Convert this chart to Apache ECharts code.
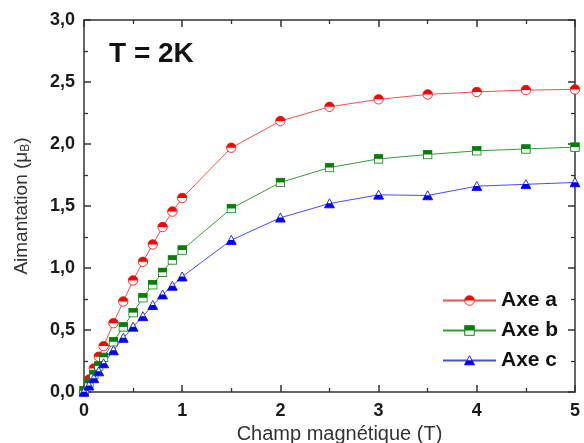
<!DOCTYPE html>
<html>
<head>
<meta charset="utf-8">
<script src="https://cdn.jsdelivr.net/npm/echarts@6/dist/echarts.min.js"></script>
<style>
html,body{margin:0;padding:0;background:#fff;}
#chart{width:584px;height:443px;}
</style>
</head>
<body>
<div id="chart"></div>
<script>
// Data
var fieldT = [0, 0.05, 0.1, 0.15, 0.2, 0.3, 0.4, 0.5, 0.6, 0.7, 0.8, 0.9, 1.0, 1.5, 2, 2.5, 3, 3.5, 4, 4.5, 5];
var axeA = [0, 0.10, 0.19, 0.285, 0.37, 0.555, 0.73, 0.90, 1.05, 1.19, 1.33, 1.455, 1.565, 1.97, 2.185, 2.30, 2.36, 2.40, 2.42, 2.435, 2.44];
var axeB = [0.01, 0.07, 0.14, 0.21, 0.28, 0.405, 0.525, 0.64, 0.76, 0.865, 0.965, 1.065, 1.145, 1.48, 1.69, 1.81, 1.88, 1.915, 1.945, 1.96, 1.975];
var axeC = [0, 0.05, 0.11, 0.165, 0.23, 0.335, 0.435, 0.525, 0.61, 0.70, 0.785, 0.855, 0.93, 1.225, 1.405, 1.52, 1.59, 1.585, 1.66, 1.675, 1.69];
var seriesNames = ['Axe a', 'Axe b', 'Axe c'];
var xTickLabels = ['0', '1', '2', '3', '4', '5'];
var yTickLabels = ['0,0', '0,5', '1,0', '1,5', '2,0', '2,5', '3,0'];

function svgSym(svg) {
  return 'image://data:image/svg+xml;charset=utf-8,' + encodeURIComponent(svg);
}
var NS = 'xmlns="http://www.w3.org/2000/svg"';
var symCircle = svgSym('<svg ' + NS + ' width="20" height="20" viewBox="0 0 20 20">' +
  '<circle cx="10" cy="10" r="8.6" fill="#fff" stroke="#ff0000" stroke-width="1.5"/>' +
  '<path d="M1.4,10 A8.6,8.6 0 0 1 18.6,10 Z" fill="#ff0000"/></svg>');
var symSquare = svgSym('<svg ' + NS + ' width="20" height="20" viewBox="0 0 20 20">' +
  '<rect x="1.5" y="1.5" width="17" height="17" fill="#fff" stroke="#008000" stroke-width="1.7"/>' +
  '<rect x="1.5" y="1.5" width="17" height="8.5" fill="#008000"/></svg>');
var symTri = svgSym('<svg ' + NS + ' width="20" height="20" viewBox="0 0 20 20">' +
  '<polygon points="10,1.5 19,17.8 1,17.8" fill="#fff" stroke="#0000ff" stroke-width="1.5" stroke-linejoin="miter"/>' +
  '<polygon points="5.5,9.65 14.5,9.65 19,17.8 1,17.8" fill="#0000ff"/></svg>');

var chart = echarts.init(document.getElementById('chart'), null, {renderer: 'canvas'});

function pairs(vals) {
  return fieldT.map(function (x, i) { return [x, vals[i]]; });
}

var FONT = 'Liberation Sans, Arial, sans-serif';
var axisLineStyle = {color: '#333', width: 1.5};
var labelFont = {fontFamily: FONT, fontWeight: 'bold', fontSize: 18, color: '#1a1a1a'};
var tickCfg = {show: true, inside: true, length: 7, lineStyle: axisLineStyle};
var minorCfg = {show: true, splitNumber: 2, length: 4, lineStyle: {color: '#333', width: 1.3}};

var option = {
  animation: false,
  backgroundColor: '#fff',
  title: {
    text: 'T = 2K',
    left: 104, top: 35,
    textStyle: {fontFamily: FONT, fontWeight: 'bold', fontSize: 28, color: '#111'}
  },
  legend: {
    orient: 'vertical',
    left: 437, top: 285,
    itemWidth: 53, itemHeight: 14, itemGap: 9,
    data: seriesNames,
    textStyle: {fontFamily: FONT, fontWeight: 'bold', fontSize: 21, color: '#111'}
  },
  grid: {left: 84, top: 20, right: 9, bottom: 51, containLabel: false, outerBoundsMode: 'none'},
  xAxis: [{
    type: 'value', min: 0, max: 5, interval: 1,
    name: 'Champ magnétique (T)', nameLocation: 'middle', nameGap: 32,
    nameTextStyle: {fontFamily: FONT, fontSize: 20, color: '#333', padding: [0, 0, 0, 20]},
    axisLine: {show: true, onZero: false, lineStyle: axisLineStyle},
    axisTick: tickCfg, minorTick: minorCfg,
    splitLine: {show: false},
    axisLabel: Object.assign({margin: 10, formatter: function (v) { return xTickLabels[Math.round(v)]; }}, labelFont)
  }, {
    type: 'value', min: 0, max: 5, interval: 1, position: 'top',
    axisLine: {show: true, onZero: false, lineStyle: axisLineStyle},
    axisTick: tickCfg, minorTick: minorCfg,
    splitLine: {show: false},
    axisLabel: {show: false}
  }],
  yAxis: [{
    type: 'value', min: 0, max: 3, interval: 0.5,
    name: '{a|Aimantation (μ}{s|B}{a|)}', nameLocation: 'middle', nameGap: 52, nameRotate: 90,
    nameTextStyle: {
      rich: {
        a: {fontFamily: FONT, fontSize: 19, color: '#333'},
        s: {fontFamily: FONT, fontSize: 12, color: '#333', verticalAlign: 'bottom', padding: [9, 0, 0, 0]}
      }
    },
    axisLine: {show: true, onZero: false, lineStyle: axisLineStyle},
    axisTick: tickCfg, minorTick: minorCfg,
    splitLine: {show: false},
    axisLabel: Object.assign({margin: 9, formatter: function (v) { return yTickLabels[Math.round(v * 2)]; }}, labelFont)
  }, {
    type: 'value', min: 0, max: 3, interval: 0.5, position: 'right',
    axisLine: {show: true, onZero: false, lineStyle: axisLineStyle},
    axisTick: tickCfg, minorTick: minorCfg,
    splitLine: {show: false},
    axisLabel: {show: false}
  }],
  series: [{
    name: seriesNames[0], type: 'line', data: pairs(axeA),
    symbol: symCircle, symbolSize: 11, clip: false,
    itemStyle: {color: '#ff0000'},
    lineStyle: {color: '#f25050', width: 1}
  }, {
    name: seriesNames[1], type: 'line', data: pairs(axeB),
    symbol: symSquare, symbolSize: 10, clip: false,
    itemStyle: {color: '#008000'},
    lineStyle: {color: '#3a9a3a', width: 1}
  }, {
    name: seriesNames[2], type: 'line', data: pairs(axeC),
    symbol: symTri, symbolSize: 11, clip: false,
    itemStyle: {color: '#0000ff'},
    lineStyle: {color: '#4a4aff', width: 1}
  }]
};
chart.setOption(option);
</script>
</body>
</html>
